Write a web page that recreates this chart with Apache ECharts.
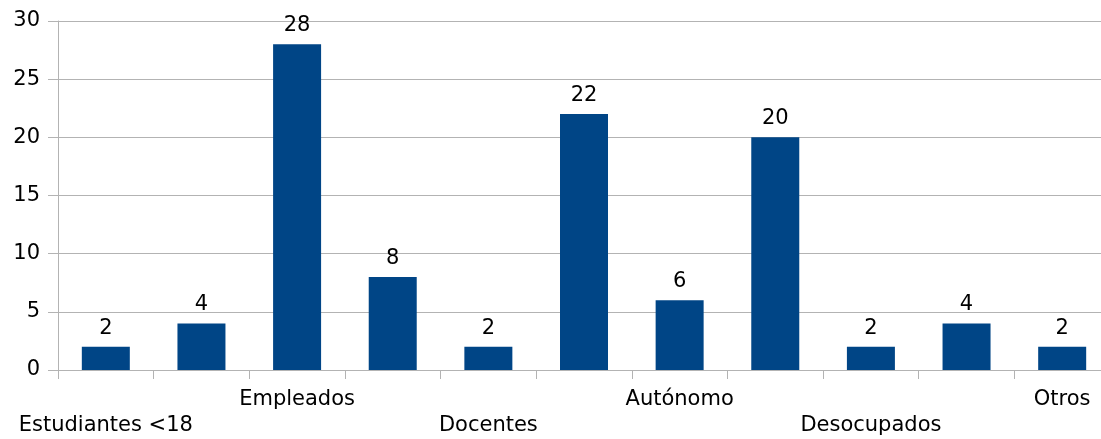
<!DOCTYPE html>
<html>
<head>
<meta charset="utf-8">
<script src="https://cdn.jsdelivr.net/npm/echarts@6/dist/echarts.min.js"></script>
<style>html,body{margin:0;padding:0;background:#fff;overflow:hidden;width:1101px;height:439px;}#c{width:1110px;height:439px;}</style>
</head>
<body>
<div id="c"></div>
<script>
var categories = ['Estudiantes <18', '', 'Empleados', '', 'Docentes', '', 'Autónomo', '', 'Desocupados', '', 'Otros'];
var values = [2, 4, 28, 8, 2, 22, 6, 20, 2, 4, 2];
var yTicks = [0, 5, 10, 15, 20, 25, 30];

var chart = echarts.init(document.getElementById('c'), null, {renderer: 'canvas'});
var font = '"DejaVu Sans", sans-serif';
chart.setOption({
  animation: false,
  grid: {left: 58, top: 21, right: 0, bottom: 69, containLabel: false},
  xAxis: {
    type: 'category',
    data: categories,
    axisLine: {lineStyle: {color: '#b3b3b3', width: 1}},
    axisTick: {show: true, length: 9, lineStyle: {color: '#b3b3b3'}},
    axisLabel: {
      interval: 0,
      hideOverlap: false,
      color: '#000',
      fontFamily: font,
      fontSize: 21,
      lineHeight: 26,
      margin: 17,
      formatter: function (v, i) {
        if (!v) return '';
        return ((i / 2) % 2 === 0) ? '\n' + v : v;
      }
    }
  },
  yAxis: {
    type: 'value',
    min: yTicks[0],
    max: yTicks[yTicks.length - 1],
    interval: 5,
    axisLine: {show: true, lineStyle: {color: '#b3b3b3', width: 1}},
    axisTick: {show: true, length: 10, lineStyle: {color: '#b3b3b3'}},
    splitLine: {show: true, lineStyle: {color: '#b3b3b3', width: 1}},
    axisLabel: {color: '#000', fontFamily: font, fontSize: 21, margin: 18}
  },
  series: [{
    type: 'bar',
    data: values,
    barWidth: 48,
    itemStyle: {color: '#004586'},
    label: {show: true, position: 'top', distance: 8, color: '#000', fontFamily: font, fontSize: 21}
  }]
});
</script>
</body>
</html>
